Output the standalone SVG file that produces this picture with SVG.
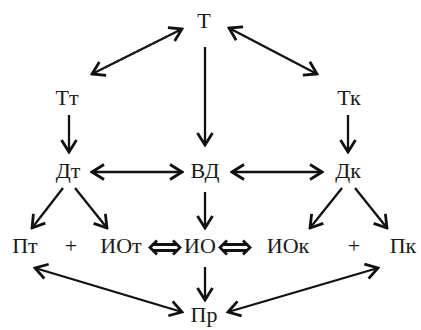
<svg xmlns="http://www.w3.org/2000/svg" width="421" height="330" viewBox="0 0 421 330">
<defs>
<style>
.t{font-family:'Liberation Serif','Times New Roman',serif;font-size:22px;fill:#1a1a1a}
.c line{stroke:#111;stroke-width:2.3;fill:none}
.dbl{stroke:#111;stroke-width:2.8;fill:none;stroke-linejoin:miter}
</style>
<marker id="ah" viewBox="0 0 16 18" refX="14" refY="9" markerWidth="16" markerHeight="18" markerUnits="userSpaceOnUse" orient="auto-start-reverse">
<path d="M2,1.5 L14,9 L2,16.5" fill="none" stroke="#111" stroke-width="2.8"/>
</marker>
</defs>
<rect width="421" height="330" fill="#fff"/>
<g font-family="Liberation Serif, Times New Roman, serif">
<g id="n-T"><text class="t" x="204" y="28" text-anchor="middle">Т</text></g>
<g id="n-Tt"><text class="t" x="67" y="105" text-anchor="middle">Тт</text></g>
<g id="n-Tk"><text class="t" x="349" y="105" text-anchor="middle">Тк</text></g>
<g id="n-Dt"><text class="t" x="68" y="178" text-anchor="middle">Дт</text></g>
<g id="n-VD"><text class="t" x="205" y="178" text-anchor="middle">ВД</text></g>
<g id="n-Dk"><text class="t" x="348" y="178" text-anchor="middle">Дк</text></g>
<g id="n-Pt"><text class="t" x="25" y="253" text-anchor="middle">Пт</text></g>
<g id="n-plus1"><text class="t" x="71" y="253" text-anchor="middle">+</text></g>
<g id="n-IOt"><text class="t" x="121" y="253" text-anchor="middle">ИОт</text></g>
<g id="n-IO"><text class="t" x="200" y="253" text-anchor="middle">ИО</text></g>
<g id="n-IOk"><text class="t" x="288" y="253" text-anchor="middle">ИОк</text></g>
<g id="n-plus2"><text class="t" x="354" y="253" text-anchor="middle">+</text></g>
<g id="n-Pk"><text class="t" x="403" y="253" text-anchor="middle">Пк</text></g>
<g id="n-Pr"><text class="t" x="204" y="322" text-anchor="middle">Пр</text></g>
</g>
<g id="connectors" class="c">
<line x1="182" y1="29" x2="92" y2="74" marker-start="url(#ah)" marker-end="url(#ah)"/>
<line x1="229" y1="28" x2="317" y2="74" marker-start="url(#ah)" marker-end="url(#ah)"/>
<line x1="205" y1="47" x2="205" y2="145" marker-end="url(#ah)"/>
<line x1="69" y1="115" x2="69" y2="152" marker-end="url(#ah)"/>
<line x1="348" y1="115" x2="348" y2="152" marker-end="url(#ah)"/>
<line x1="92" y1="172" x2="182" y2="172" marker-start="url(#ah)" marker-end="url(#ah)"/>
<line x1="232" y1="172" x2="322" y2="172" marker-start="url(#ah)" marker-end="url(#ah)"/>
<line x1="63" y1="188" x2="32" y2="228" marker-end="url(#ah)"/>
<line x1="75" y1="188" x2="107" y2="228" marker-end="url(#ah)"/>
<line x1="342" y1="188" x2="310" y2="228" marker-end="url(#ah)"/>
<line x1="355" y1="188" x2="387" y2="228" marker-end="url(#ah)"/>
<line x1="205" y1="192" x2="205" y2="228" marker-end="url(#ah)"/>
<line x1="205" y1="267" x2="205" y2="300" marker-end="url(#ah)"/>
<line x1="35" y1="268" x2="182" y2="312" marker-start="url(#ah)" marker-end="url(#ah)"/>
<line x1="378" y1="268" x2="228" y2="312" marker-start="url(#ah)" marker-end="url(#ah)"/>
<path class="dbl" d="M157,240.5 L150,247.5 L157,254.5 M173,240.5 L180,247.5 L173,254.5 M153,244.5 H177 M153,250.5 H177"/>
<path class="dbl" d="M227,240.5 L220,247.5 L227,254.5 M243,240.5 L250,247.5 L243,254.5 M223,244.5 H247 M223,250.5 H247"/>
</g>
</svg>
